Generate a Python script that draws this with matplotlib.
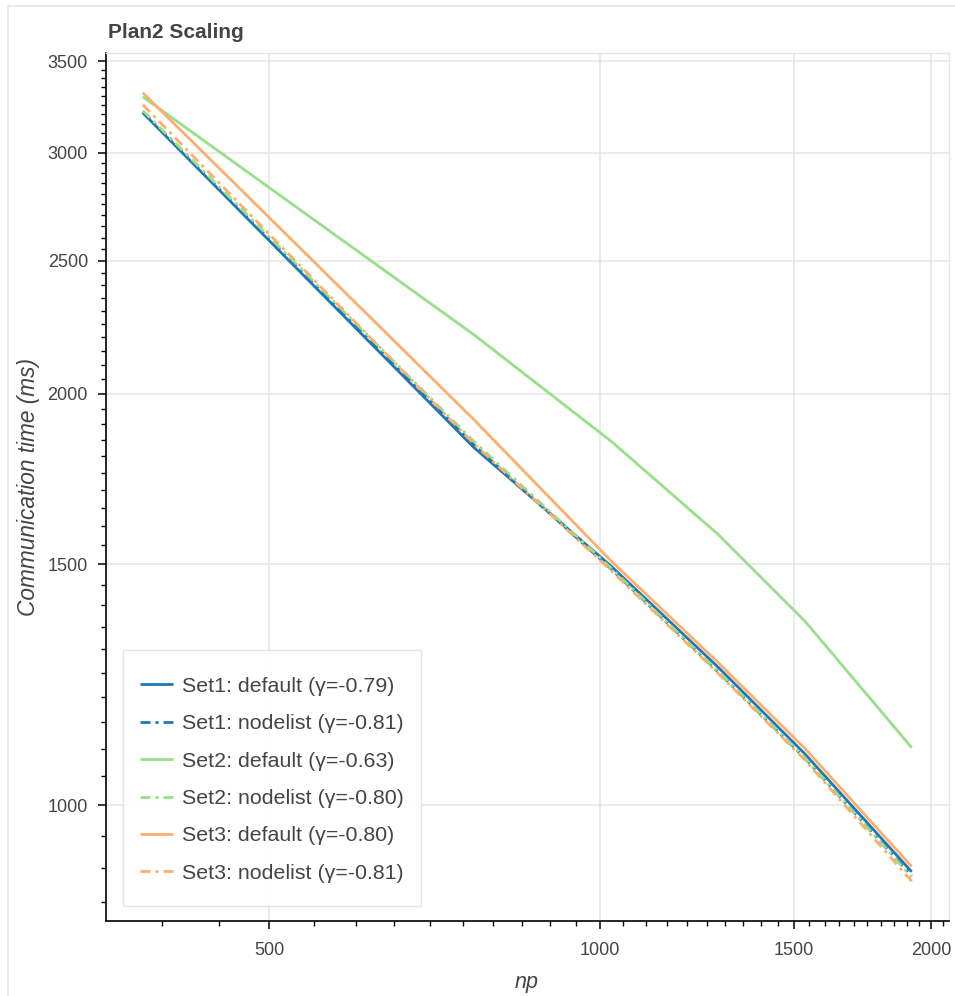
import matplotlib
matplotlib.use("Agg")
import matplotlib.pyplot as plt
from matplotlib.patches import Rectangle
from matplotlib.ticker import FixedLocator, FuncFormatter, NullFormatter
import numpy as np

plt.rcParams['font.family'] = ['Liberation Sans', 'DejaVu Sans']

# values
nprocs = [384, 768, 1024, 1280, 1536, 1920]
set1_default = [3208, 1826, 1495, 1262, 1090, 894]
set1_nodelist = [3212, 1835, 1488, 1252, 1082, 888]
set2_default = [3296, 2208, 1845, 1578, 1363, 1102]
set2_nodelist = [3220, 1845, 1490, 1253, 1083, 886]
set3_default = [3318, 1914, 1508, 1272, 1100, 902]
set3_nodelist = [3252, 1838, 1484, 1249, 1079, 880]

labels = ["Set1: default (γ=-0.79)", "Set1: nodelist (γ=-0.81)",
          "Set2: default (γ=-0.63)", "Set2: nodelist (γ=-0.80)",
          "Set3: default (γ=-0.80)", "Set3: nodelist (γ=-0.81)"]
series = [set1_default, set1_nodelist, set2_default, set2_nodelist,
          set3_default, set3_nodelist]
colors = ['#1f77b4', '#1f77b4', '#98df8a', '#98df8a', '#fdae6b', '#fdae6b']
dotdash = (0, (3.6, 1.8, 1.1, 1.8))
styles = ['-', dotdash, '-', dotdash, '-', dotdash]

W, H = 955, 996
fig = plt.figure(figsize=(W / 100, H / 100), dpi=100)
TXT = '#444444'
GRID = '#e5e5e5'

# outer border of the bokeh layout
fig.patches.append(Rectangle((8 / W, -0.01), 1.0, 1 - 6 / H + 0.01,
                             transform=fig.transFigure, fill=False,
                             ec=GRID, lw=1.2))

left, right, top, bottom = 106, 949, 53, 921
ax = fig.add_axes([left / W, 1 - bottom / H, (right - left) / W, (bottom - top) / H])
ax.set_xscale('log')
ax.set_yscale('log')

for vals, lab, c, ls in zip(series, labels, colors, styles):
    ax.plot(nprocs, vals, color=c, linestyle=ls, lw=2.0, label=lab,
            solid_capstyle='butt', dash_capstyle='butt')

ax.set_xlim(355.5, 2076)
ax.set_ylim(823, 3548)

ax.xaxis.set_major_locator(FixedLocator([500, 1000, 1500, 2000]))
ax.xaxis.set_minor_locator(FixedLocator(np.arange(400, 2100, 50)))
ax.yaxis.set_major_locator(FixedLocator([1000, 1500, 2000, 2500, 3000, 3500]))
ax.yaxis.set_minor_locator(FixedLocator(np.arange(850, 3550, 50)))
fmt = FuncFormatter(lambda v, p: f"{int(round(v))}")
ax.xaxis.set_major_formatter(fmt)
ax.yaxis.set_major_formatter(fmt)
ax.xaxis.set_minor_formatter(NullFormatter())
ax.yaxis.set_minor_formatter(NullFormatter())

ax.tick_params(which='major', direction='out', length=6, width=1.1,
               colors='black', labelcolor=TXT, labelsize=13)
ax.tick_params(which='minor', direction='out', length=3.6, width=1.0, colors='black')
ax.tick_params(axis='y', which='major', pad=7)
ax.tick_params(axis='x', which='major', pad=9)

ax.grid(True, which='major', color=GRID, lw=1.1)
ax.set_axisbelow(True)
for s in ['top', 'right']:
    ax.spines[s].set_color(GRID)
    ax.spines[s].set_linewidth(1.0)
for s in ['left', 'bottom']:
    ax.spines[s].set_color('black')
    ax.spines[s].set_linewidth(1.2)

# legend box drawn separately so its padding can match the reference
ax.add_patch(Rectangle((123 / W, 1 - 906 / H), 298 / W, 256 / H,
                       transform=fig.transFigure, fc='white', alpha=0.95,
                       ec='none', zorder=4, clip_on=False))
ax.add_patch(Rectangle((123 / W, 1 - 906 / H), 298 / W, 256 / H,
                       transform=fig.transFigure, fill=False, ec=GRID,
                       lw=1.0, zorder=4.5, clip_on=False))
leg = ax.legend(loc='lower left', bbox_to_anchor=(123 / W, 1 - 900 / H),
                bbox_transform=fig.transFigure, fontsize=15.4, frameon=False,
                handlelength=1.55, handletextpad=0.42, labelspacing=0.86,
                borderpad=0.8, borderaxespad=0)
for t in leg.get_texts():
    t.set_color(TXT)

fig.text(108 / W, 1 - 32 / H, 'Plan2 Scaling', fontsize=15, fontweight='bold',
         color=TXT, va='center', ha='left')
fig.text(28 / W, 1 - 487 / H, 'Communication time (ms)', fontsize=16.3,
         style='italic', color=TXT, rotation=90, va='center', ha='center')
fig.text(527 / W, 1 - 982 / H, 'np', fontsize=15.5, style='italic', color=TXT,
         va='center', ha='center')

fig.savefig('out.png', dpi=100)
